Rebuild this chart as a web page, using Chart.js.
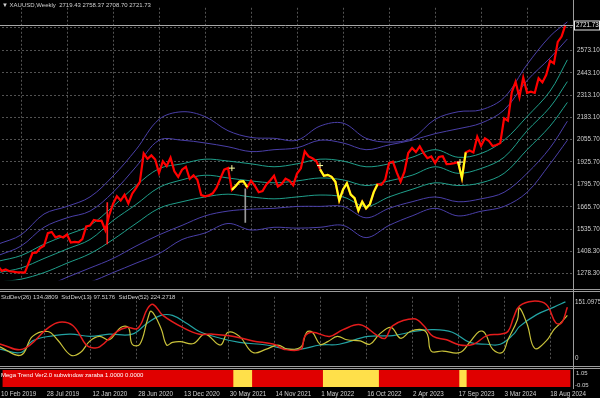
<!DOCTYPE html>
<html>
<head>
<meta charset="utf-8">
<script src="https://cdn.jsdelivr.net/npm/chart.js@4.4.1/dist/chart.umd.min.js"></script>
<style>
    html, body { margin: 0; padding: 0; background: #000; overflow: hidden; }
    body { width: 600px; height: 398px; position: relative; font-family: 'Liberation Sans', Arial, sans-serif; }
    canvas { position: absolute; }
    .txt { position: absolute; color: #d0d0d0; font-size: 6px; white-space: pre; line-height: 1; }
    .sep { position: absolute; background: #9c9c9c; }
</style>
</head>
<body>
<canvas id="main" width="602" height="288" style="left:-2px;top:0"></canvas>
<canvas id="sd" width="602" height="75" style="left:-2px;top:291px"></canvas>
<canvas id="trend" width="602" height="29" style="left:-2px;top:369px"></canvas>

<div class="sep" style="left:0;top:289px;width:600px;height:1px"></div>
<div class="sep" style="left:0;top:291px;width:600px;height:1px"></div>
<div class="sep" style="left:0;top:366px;width:600px;height:1px"></div>
<div class="sep" style="left:0;top:368px;width:600px;height:1px"></div>
<div class="sep" style="left:573px;top:0;width:1px;height:389px"></div>

<div class="txt" style="left:2px;top:2px">&#9660; XAUUSD,Weekly  2719.43 2758.37 2708.70 2721.73</div>
<div class="txt" style="left:1px;top:294px">StdDev(26) 134.3809  StdDev(13) 97.5176  StdDev(52) 224.2718</div>
<div class="txt" style="left:1px;top:372px;color:#fff">Mega Trend Ver2.0 subwindow zaraba 1.0000 0.0000</div>
<div class="txt" style="left:576px;top:370px">1.05</div>
<div class="txt" style="left:575px;top:382px">-0.05</div>

<script>
// weekly XAUUSD, one close every 2 weeks starting 10 Feb 2019 (week 0)
var price = [
    1322, 1294, 1302, 1292, 1290, 1286, 1286, 1284, 1341, 1399,
    1400, 1426, 1440, 1513, 1520, 1488, 1497, 1488, 1505, 1458,
    1462, 1460, 1478, 1552, 1557, 1589, 1584, 1585, 1530, 1617,
    1683, 1727, 1702, 1735, 1685, 1742, 1774, 1810, 1975, 1944,
    1964, 1940, 1862, 1930, 1902, 1951, 1872, 1839, 1881, 1898,
    1828, 1848, 1823, 1734, 1727, 1732, 1744, 1777, 1831, 1881,
    1891, 1764, 1787, 1812, 1814, 1779, 1817, 1787, 1750, 1757,
    1796, 1818, 1846, 1783, 1798, 1829, 1818, 1791, 1859, 1889,
    1988, 1958, 1947, 1931, 1883, 1846, 1851, 1840, 1811, 1703,
    1766, 1802, 1737, 1716, 1644, 1695, 1657, 1681, 1751, 1797,
    1793, 1824, 1920, 1928, 1865, 1811, 1868, 1978, 2007, 1983,
    2016, 1977, 1948, 1958, 1919, 1955, 1959, 1914, 1915, 1919,
    1925, 1833, 1981, 1992, 1981, 2072, 2019, 2063, 2049, 2018,
    2024, 2035, 2179, 2165, 2329, 2391, 2301, 2415, 2327, 2333,
    2326, 2411, 2387, 2431, 2512, 2497, 2622, 2653, 2721
];
var lastClose = 2721.73;

// long wicks that stand out (week, low, high)
var wickWeeks = [57, 129];
var wickLow = [1451, 1575];
var wickHigh = [1690, 1770];

// band lines (purple outer, teal inner)
var bandWeeks = [0, 12, 24, 36, 48, 60, 72, 84, 96, 108, 120, 132, 144, 156, 168, 180, 192, 204, 216, 228, 240, 252, 264, 276, 288, 297];
var bandU3 = [1449, 1503, 1624, 1668, 1723, 1844, 1997, 2173, 2217, 2189, 2107, 2068, 2063, 2052, 2134, 2151, 2063, 2041, 2063, 2173, 2217, 2228, 2299, 2491, 2655, 2738];
var bandU2 = [1383, 1438, 1547, 1602, 1641, 1750, 1898, 2052, 2052, 2036, 2014, 1986, 1997, 2008, 2052, 2036, 1997, 2025, 2052, 2090, 2118, 2151, 2227, 2398, 2529, 2639];
var bandT1 = [1350, 1383, 1449, 1503, 1558, 1668, 1789, 1887, 1915, 1942, 1931, 1915, 1898, 1915, 1942, 1931, 1898, 1915, 1953, 1997, 1953, 1975, 2052, 2189, 2337, 2518];
var bandT2 = [1284, 1311, 1366, 1421, 1476, 1586, 1679, 1778, 1822, 1849, 1833, 1816, 1805, 1816, 1833, 1822, 1789, 1816, 1849, 1898, 1860, 1888, 1953, 2107, 2244, 2392];
var bandT3 = [1229, 1246, 1284, 1339, 1394, 1476, 1569, 1657, 1695, 1723, 1739, 1723, 1712, 1723, 1734, 1723, 1668, 1723, 1767, 1805, 1789, 1805, 1860, 1997, 2134, 2271];
var bandL2 = [1174, 1185, 1202, 1257, 1311, 1366, 1438, 1503, 1558, 1613, 1641, 1652, 1657, 1668, 1668, 1668, 1602, 1657, 1695, 1723, 1695, 1712, 1750, 1860, 2008, 2162];
var bandL3 = [1119, 1130, 1147, 1191, 1229, 1284, 1339, 1394, 1476, 1514, 1569, 1531, 1547, 1542, 1547, 1558, 1487, 1558, 1613, 1657, 1613, 1640, 1668, 1750, 1915, 2052];

// candle markers where the trend flips
var markWeeks = [122, 168, 241];
var markPrices = [1890, 1905, 1925];

// StdDev subwindow
var sd26Weeks = [1, 13, 26, 32, 39, 46, 49, 53, 62, 67, 73, 78, 81, 86, 97, 105, 112, 123, 133, 144, 149, 158, 160, 164, 173, 180, 189, 198, 202, 206, 217, 222, 227, 234, 241, 248, 255, 262, 266, 269, 272, 279, 286, 291, 294, 297];
var sd26 = [39, 25, 81, 97, 88, 36, 29, 31, 72, 83, 81, 133, 144, 115, 81, 65, 65, 59, 47, 38, 25, 25, 59, 70, 59, 77, 90, 61, 54, 88, 106, 88, 59, 50, 36, 38, 61, 65, 72, 110, 140, 153, 144, 95, 95, 137];
var sd13Weeks = [1, 12, 18, 26, 31, 38, 43, 48, 53, 58, 64, 68, 70, 74, 78, 80, 85, 88, 91, 95, 102, 108, 116, 120, 126, 133, 140, 146, 151, 158, 161, 164, 168, 172, 177, 182, 189, 194, 199, 205, 210, 215, 221, 224, 226, 232, 241, 246, 251, 254, 258, 263, 266, 271, 272, 276, 280, 286, 290, 293, 297];
var sd13 = [31, 9, 59, 72, 50, 9, 16, 47, 59, 50, 83, 83, 38, 38, 104, 126, 81, 36, 43, 45, 40, 65, 36, 70, 59, 16, 25, 36, 25, 31, 70, 70, 38, 45, 59, 50, 47, 38, 65, 83, 54, 72, 77, 65, 20, 20, 16, 43, 72, 68, 25, 16, 50, 104, 135, 92, 27, 47, 77, 92, 115];
var sd52Weeks = [1, 12, 18, 29, 38, 48, 58, 70, 78, 85, 91, 99, 105, 116, 126, 140, 151, 158, 168, 178, 193, 206, 217, 227, 237, 246, 255, 262, 269, 272, 281, 290, 296];
var sd52 = [25, 16, 47, 61, 65, 59, 65, 65, 95, 115, 115, 92, 72, 54, 43, 36, 25, 25, 36, 38, 59, 61, 72, 77, 70, 43, 38, 38, 65, 85, 117, 137, 151];

// Mega Trend: yellow periods, red otherwise
var yellowStart = [122, 169, 240.5];
var yellowEnd = [131.5, 198, 244];
var trendFrom = 1, trendTo = 298.4;

// axis
var tickWeeks = [0, 24, 48, 72, 96, 120, 144, 168, 192, 216, 240, 264, 288];
var dateLabels = ['10 Feb 2019', '28 Jul 2019', '12 Jan 2020', '28 Jun 2020', '13 Dec 2020', '30 May 2021', '14 Nov 2021',
    '1 May 2022', '16 Oct 2022', '2 Apr 2023', '17 Sep 2023', '3 Mar 2024', '18 Aug 2024'];
var priceTicks = [2705.10, 2573.10, 2443.10, 2313.10, 2183.10, 2055.70, 1925.70, 1795.70, 1665.70, 1535.70, 1408.30, 1278.30];
var sdTicks = [0, 151.0975];

var weekMax = 299.95;
var gridColor = 'rgba(150,150,150,0.55)';
var labelColor = '#cfcfcf';
var fontSmall = { family: 'Liberation Sans', size: 6.3 };

function pts(xs, ys) {
    return ys.map(function (v, i) { return { x: xs[i], y: v }; });
}
function inYellow(w) {
    for (var k = 0; k < yellowStart.length; k++) {
        if (w >= yellowStart[k] - 1 && w <= yellowEnd[k]) return true;
    }
    return false;
}
var pricePts = price.map(function (v, i) { return { x: i * 2, y: v }; });
var yellowPts = price.map(function (v, i) { return { x: i * 2, y: inYellow(i * 2) ? v : null }; });

function timeAxis() {
    return {
        type: 'linear', min: 0, max: weekMax,
        afterBuildTicks: function (s) { s.ticks = tickWeeks.map(function (w) { return { value: w }; }); },
        afterFit: function (s) { s.height = 0; },
        ticks: { display: false },
        grid: { color: gridColor, drawTicks: false },
        border: { display: false, dash: [2, 2] }
    };
}
function band(data, color) {
    return { type: 'line', data: pts(bandWeeks, data), borderColor: color, borderWidth: 1, pointRadius: 0, tension: 0.35, order: 3 };
}
var common = {
    responsive: false, animation: false, events: [],
    plugins: { legend: { display: false }, tooltip: { enabled: false } }
};

var lastLine = {
    id: 'lastLine',
    afterDatasetsDraw: function (chart) {
        var ctx = chart.ctx, a = chart.chartArea;
        var y = Math.round(chart.scales.y.getPixelForValue(lastClose)) + 0.5;
        ctx.save();
        ctx.strokeStyle = '#a8a8a8';
        ctx.lineWidth = 1;
        ctx.beginPath();
        ctx.moveTo(a.left, y);
        ctx.lineTo(a.right, y);
        ctx.stroke();
        ctx.fillStyle = '#000';
        ctx.fillRect(a.right + 1, y - 5, 26, 10);
        ctx.strokeStyle = '#e8e8e8';
        ctx.strokeRect(a.right + 1.5, y - 4.5, 25, 9);
        ctx.fillStyle = '#f0f0f0';
        ctx.font = '6.3px "Liberation Sans"';
        ctx.textBaseline = 'middle';
        ctx.fillText(lastClose.toFixed(2), a.right + 3, y);
        ctx.restore();
    }
};

new Chart('main', {
    type: 'line',
    data: {
        datasets: [
            { type: 'line', data: pts(markWeeks, markPrices), showLine: false, pointStyle: 'cross', pointRadius: 3, borderColor: '#ffffa0', borderWidth: 1, order: 0 },
            { type: 'line', data: yellowPts, borderColor: '#ffff1a', borderWidth: 2.2, pointRadius: 0, spanGaps: false, order: 1 },
            { type: 'line', data: pricePts, borderColor: '#ff0000', borderWidth: 2.2, pointRadius: 0, order: 2 },
            {
                type: 'bar', data: wickWeeks.map(function (w, i) { return { x: w, y: [wickLow[i], wickHigh[i]] }; }),
                backgroundColor: ['#ff2020', '#9a9a9a'], barThickness: 1, grouped: false, order: 2
            },
            band(bandU3, '#4a3fa8'),
            band(bandU2, '#4a3fa8'),
            band(bandT1, '#1f9e8a'),
            band(bandT2, '#1f9e8a'),
            band(bandT3, '#1f9e8a'),
            band(bandL2, '#4a3fa8'),
            band(bandL3, '#4a3fa8')
        ]
    },
    options: Object.assign({}, common, {
        layout: { padding: 0, autoPadding: false },
        scales: {
            x: Object.assign(timeAxis(), { offset: false }),
            y: {
                position: 'right', min: 1240, max: 2820,
                afterBuildTicks: function (s) { s.ticks = priceTicks.map(function (v) { return { value: v }; }); },
                afterFit: function (s) { s.width = 27; },
                ticks: { color: labelColor, font: fontSmall, padding: 4, callback: function (v) { return v.toFixed(2); } },
                grid: { color: gridColor, drawTicks: false },
                border: { display: false, dash: [2, 2] }
            }
        }
    }),
    plugins: [lastLine]
});

new Chart('sd', {
    type: 'line',
    data: {
        datasets: [
            { data: pts(sd26Weeks, sd26), borderColor: '#e41c1c', borderWidth: 1.5, pointRadius: 0, tension: 0.4, order: 0 },
            { data: pts(sd13Weeks, sd13), borderColor: '#c9c23a', borderWidth: 1.2, pointRadius: 0, tension: 0.4, order: 1 },
            { data: pts(sd52Weeks, sd52), borderColor: '#23a3a3', borderWidth: 1.2, pointRadius: 0, tension: 0.4, order: 2 }
        ]
    },
    options: Object.assign({}, common, {
        layout: { padding: 0, autoPadding: false },
        scales: {
            x: timeAxis(),
            y: {
                position: 'right', min: -4.5, max: 164.6,
                afterBuildTicks: function (s) { s.ticks = sdTicks.map(function (v) { return { value: v }; }); },
                afterFit: function (s) { s.width = 27; },
                ticks: { color: labelColor, font: fontSmall, padding: 2, callback: function (v) { return v === 0 ? '0' : v.toFixed(4); } },
                grid: { display: false, drawTicks: false },
                border: { display: false }
            }
        }
    })
});

var trendSets = yellowStart.map(function (s, k) {
    return { data: [[s, yellowEnd[k]]], backgroundColor: '#ffe04a', grouped: false, barPercentage: 1, categoryPercentage: 1, order: 0 };
});
trendSets.push({ data: [[trendFrom, trendTo]], backgroundColor: '#e00000', grouped: false, barPercentage: 1, categoryPercentage: 1, order: 1 });

new Chart('trend', {
    type: 'bar',
    data: { labels: ['zaraba'], datasets: trendSets },
    options: Object.assign({}, common, {
        indexAxis: 'y',
        layout: { padding: { top: 1, right: 27, left: 0, bottom: 0 }, autoPadding: false },
        scales: {
            x: {
                type: 'linear', min: 0, max: weekMax,
                afterBuildTicks: function (s) { s.ticks = tickWeeks.map(function (w) { return { value: w }; }); },
                afterFit: function (s) { s.height = 11; },
                ticks: {
                    color: labelColor, font: fontSmall, padding: 3, align: 'start', autoSkip: false, maxRotation: 0,
                    callback: function (v) { return dateLabels[tickWeeks.indexOf(v)]; }
                },
                grid: { display: false, drawTicks: false },
                border: { display: false }
            },
            y: { display: false }
        }
    })
});
</script>
</body>
</html>
